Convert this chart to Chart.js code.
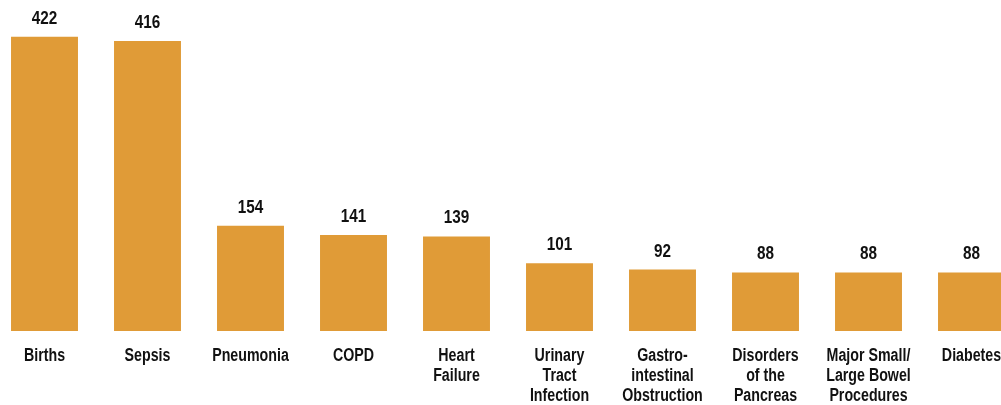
<!DOCTYPE html>
<html>
<head>
<meta charset="utf-8">
<script src="https://cdn.jsdelivr.net/npm/chart.js@4"></script>
<style>
  html, body { margin: 0; padding: 0; background: #fff; overflow: hidden; }
  #wrap { position: absolute; left: -7px; top: 0; width: 1030px; height: 405px; }
</style>
</head>
<body>
<div id="wrap"><canvas id="myChart"></canvas></div>
<script>
const categorias = [
    'Births',
    'Sepsis',
    'Pneumonia',
    'COPD',
    ['Heart', 'Failure'],
    ['Urinary', 'Tract', 'Infection'],
    ['Gastro-', 'intestinal', 'Obstruction'],
    ['Disorders', 'of the', 'Pancreas'],
    ['Major Small/', 'Large Bowel', 'Procedures'],
    'Diabetes'
];
const valores = [422, 416, 154, 141, 139, 101, 92, 88, 88, 88];

const fonte = "'Liberation Sans', Arial, sans-serif";
const corBarra = '#E09B37';
const corTexto = '#111';

// texto "estreito": escala horizontal para imitar Arial Narrow
function textoEstreito(ctx, txt, x, y, escala) {
    ctx.save();
    ctx.translate(x, y);
    ctx.scale(escala, 1);
    ctx.fillText(txt, 0, 0);
    ctx.restore();
}

const rotulos = {
    id: 'rotulos',
    afterDatasetsDraw(chart) {
        const ctx = chart.ctx;
        const meta = chart.getDatasetMeta(0);
        const xScale = chart.scales.x;
        const base = chart.chartArea.bottom;
        ctx.save();
        ctx.fillStyle = corTexto;
        ctx.textAlign = 'center';
        ctx.textBaseline = 'alphabetic';

        // valores em cima das barras
        ctx.font = 'bold 18px ' + fonte;
        meta.data.forEach((bar, i) => {
            textoEstreito(ctx, String(valores[i]), bar.x, bar.y - 13, 0.85);
        });

        // categorias embaixo
        ctx.font = 'bold 18px ' + fonte;
        categorias.forEach((cat, i) => {
            const linhas = Array.isArray(cat) ? cat : [cat];
            const x = xScale.getPixelForValue(i);
            linhas.forEach((l, j) => {
                textoEstreito(ctx, l, x, base + 30 + j * 20, 0.79);
            });
        });
        ctx.restore();
    }
};

const ctx = document.getElementById('myChart');
const chart = new Chart(ctx, {
    type: 'bar',
    data: {
        labels: categorias,
        datasets: [{
            data: valores,
            backgroundColor: corBarra,
            borderWidth: 0,
            barPercentage: 0.65,
            categoryPercentage: 1
        }]
    },
    options: {
        responsive: true,
        maintainAspectRatio: false,
        animation: false,
        layout: { padding: 0 },
        plugins: {
            legend: { display: false },
            tooltip: { enabled: false }
        },
        scales: {
            x: {
                grid: { display: false },
                border: { display: false },
                ticks: { display: false },
                afterFit: (scale) => { scale.height = 74; }
            },
            y: {
                display: false,
                min: 5,
                max: 474
            }
        }
    },
    plugins: [rotulos]
});
</script>
</body>
</html>
